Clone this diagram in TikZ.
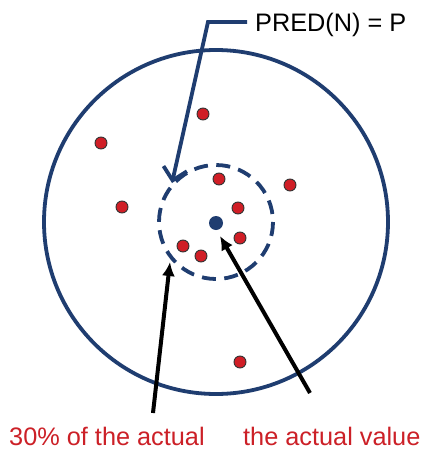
\documentclass[tikz,border=0pt]{standalone}
\usepackage{fontspec}
\setmainfont{Liberation Sans}
\usetikzlibrary{arrows.meta}
\definecolor{navy}{RGB}{31,61,112}
\definecolor{dotred}{RGB}{208,30,38}
\definecolor{txtred}{RGB}{204,32,39}
\tikzset{
  reddot/.style={circle,fill=dotred,draw=black!80,line width=0.9pt,minimum size=12pt,inner sep=0pt},
  lbl/.style={inner sep=0pt,font=\fontsize{25.3}{30}\selectfont},
  blkarrow/.style={line width=4pt,-{Latex[length=14pt,width=13pt]}},
}
\begin{document}
\begin{tikzpicture}[x=1pt,y=-1pt]
\useasboundingbox (0,0) rectangle (423,450);
\fill[white] (0,0) rectangle (423,450);
\coordinate (c) at (216,222);
\draw[navy,line width=3.8pt] (c) circle[radius=172];
\draw[navy,line width=3.8pt,dash pattern=on 14pt off 8.4pt] (c) circle[radius=57];
\node[circle,fill=navy,minimum size=14pt,inner sep=0pt] (act) at (216,223) {};
% red dots
\node[reddot] (d1) at (219,179) {};
\node[reddot] (d2) at (238,208) {};
\node[reddot] (d3) at (240,238) {};
\node[reddot] (d4) at (183,246) {};
\node[reddot] (d5) at (201,256) {};
\node[reddot] (d6) at (290,185) {};
\node[reddot] (d7) at (101,143) {};
\node[reddot] (d8) at (203,114) {};
\node[reddot] (d9) at (122,207) {};
\node[reddot] (d10) at (240,362) {};
% labels
\node[lbl,anchor=base west] (pred) at (255,31.5) {PRED(N) = P};
\node[lbl,anchor=base west,text=txtred] (pct) at (9,445) {30\% of the actual};
\node[lbl,anchor=base west,text=txtred] (val) at (243,445) {the actual value};
% blue pointer
\coordinate (pa) at (247,22);
\coordinate (pb) at (208,22);
\coordinate (pt) at (172,183);
\draw[navy,line width=3.8pt,-{Straight Barb[length=12pt,width=24pt,line width=3.8pt]}] (pa) -- (pb) -- (pt);
% black arrows
\coordinate (la) at (153,413);
\coordinate (lt) at (170,262);
\coordinate (ra) at (310,393);
\coordinate (rt) at (220,236);
\draw[blkarrow] (la) -- (lt);
\draw[blkarrow] (ra) -- (rt);
\end{tikzpicture}
\end{document}
